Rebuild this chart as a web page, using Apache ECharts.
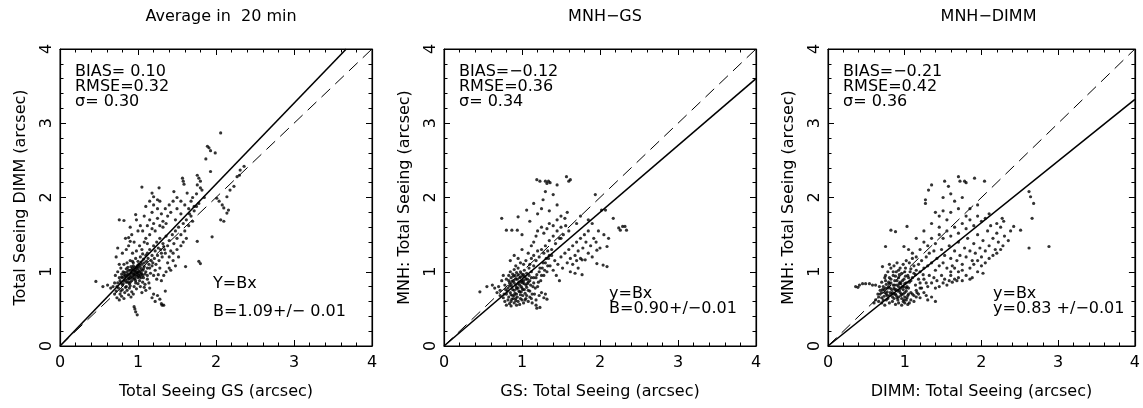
<!DOCTYPE html>
<html><head><meta charset="utf-8">
<script src="https://cdn.jsdelivr.net/npm/echarts@6/dist/echarts.min.js"></script>
<style>html,body{margin:0;padding:0;background:#fff}#c{width:1143px;height:408px}</style>
</head><body><div id="c"></div>
<script>
const panelTitles = ['Average in  20 min', 'MNH\u2212GS', 'MNH\u2212DIMM'];
const xNames = ['Total Seeing GS (arcsec)', 'GS: Total Seeing (arcsec)', 'DIMM: Total Seeing (arcsec)'];
const yNames = ['Total Seeing DIMM (arcsec)', 'MNH: Total Seeing (arcsec)', 'MNH: Total Seeing (arcsec)'];
const slopes = [1.09, 0.90, 0.83];
const statsText = [
  ['BIAS= 0.10', 'RMSE=0.32', '\u03c3= 0.30'],
  ['BIAS=\u22120.12', 'RMSE=0.36', '\u03c3= 0.34'],
  ['BIAS=\u22120.21', 'RMSE=0.42', '\u03c3= 0.36']
];
const fitText = [
  ['Y=Bx', 'B=1.09+/\u2212 0.01'],
  ['y=Bx', 'B=0.90+/\u22120.01'],
  ['y=Bx', 'y=0.83 +/\u22120.01']
];
const axisRange = [0, 4];

const points1 = [
[0.75,0.78],[0.78,0.85],[0.80,0.92],[0.82,0.88],[0.84,0.95],[0.85,0.80],[0.86,1.00],[0.87,0.90],[0.88,0.97],[0.89,0.84],[0.90,1.02],[0.91,0.93],[0.92,0.88],[0.93,1.05],[0.94,0.96],[0.95,0.99],[0.96,0.91],[0.97,1.03],[0.98,0.94],[0.99,1.08],[1.00,0.98],[1.01,1.01],[1.02,0.93],[1.03,1.06],[1.04,0.99],[1.05,1.10],[1.06,0.95],[1.07,1.04],[1.08,1.12],[1.10,1.00],
[0.76,0.92],[0.79,0.97],[0.81,1.00],[0.83,0.93],[0.85,1.04],[0.87,0.86],[0.88,0.92],[0.90,0.95],[0.91,1.07],[0.92,0.98],[0.94,1.02],[0.95,0.90],[0.96,1.06],[0.98,1.00],[0.99,0.96],[1.00,1.04],[1.01,0.95],[1.02,1.09],[1.04,1.03],[1.05,0.97],
[0.72,0.74],[0.74,0.85],[0.77,0.70],[0.80,0.76],[0.83,0.72],[0.86,0.75],[0.89,0.78],[0.92,0.73],[0.95,0.80],[0.98,0.77],[1.00,0.84],[1.03,0.80],[1.06,0.86],[1.09,0.83],[1.12,0.90],
[0.73,0.65],[0.76,0.62],[0.79,0.67],[0.82,0.64],[0.88,0.69],[0.91,0.66],[0.94,0.70],[1.05,0.72],[1.10,0.75],[1.15,0.78],[1.20,0.70],[1.25,0.68],[1.28,0.63],[1.30,0.57],[1.33,0.55],[1.22,0.60],[1.18,0.65],[1.35,0.74],
[0.70,0.85],[0.68,0.80],[0.65,0.78],[0.71,0.95],[0.74,1.00],[0.78,1.05],[0.82,1.10],[0.86,1.12],[0.90,1.15],[0.94,1.12],[0.97,1.18],[1.00,1.14],[1.03,1.20],[1.07,1.17],[1.10,1.22],[1.12,1.05],[1.14,1.10],[1.16,0.98],[1.18,1.08],[1.20,0.95],[1.22,1.02],[1.24,0.90],[1.26,0.96],[1.28,1.05],[1.30,0.88],[1.33,0.95],[1.36,1.00],[1.40,1.05],
[0.46,0.87],[0.61,0.82],[0.55,0.80],[0.95,0.53],[0.97,0.46],[0.99,0.42],[0.96,0.50],[1.31,0.55],
[1.12,1.25],[1.15,1.30],[1.18,1.22],[1.20,1.35],[1.22,1.28],[1.24,1.40],[1.26,1.32],[1.28,1.45],[1.30,1.25],[1.32,1.38],[1.34,1.30],[1.36,1.48],[1.38,1.35],[1.40,1.42],[1.42,1.28],[1.44,1.50],[1.46,1.38],[1.48,1.55],[1.50,1.45],[1.52,1.60],[1.55,1.50],[1.58,1.65],[1.60,1.55],[1.62,1.70],[1.65,1.62],[1.68,1.75],[1.70,1.68],[1.72,1.82],[1.75,1.88],[1.78,1.92],
[1.15,1.50],[1.18,1.58],[1.20,1.65],[1.22,1.55],[1.25,1.72],[1.28,1.62],[1.30,1.78],[1.32,1.68],[1.35,1.85],[1.38,1.75],[1.40,1.90],[1.42,1.80],[1.45,1.95],[1.48,1.70],[1.50,1.85],[1.55,1.78],[1.60,1.90],[1.65,1.85],
[1.05,1.30],[1.08,1.40],[1.02,1.35],[0.98,1.28],[1.10,1.45],[1.06,1.55],[1.12,1.62],[1.15,1.70],[1.18,1.80],[1.20,1.90],[1.25,1.85],[1.28,1.95],[1.32,1.60],[1.36,1.65],[1.12,1.38],[1.40,1.20],[1.45,1.15],[1.48,1.08],[1.45,1.25],[1.50,1.30],[1.55,1.35],[1.52,1.20],[1.58,1.40],[1.62,1.45],[1.38,1.12],[1.42,1.02],
[0.76,1.70],[0.82,1.69],[0.84,1.45],[0.88,1.46],[0.90,1.41],[0.74,1.32],[0.72,1.20],[0.97,1.77],[0.80,1.25],[0.85,1.30],[0.88,1.35],[0.92,1.50],[0.95,1.40],[0.93,1.25],[1.00,1.55],[1.03,1.62],[0.90,1.60],[0.98,1.70],[1.08,1.75],[1.05,2.14],[1.18,2.06],[1.20,2.01],[1.25,1.97],[1.27,2.13],[1.46,2.08],[1.63,2.06],[1.10,1.88],[1.15,1.95],
[2.06,2.87],[1.89,2.69],[1.91,2.67],[1.93,2.63],[1.99,2.60],[1.87,2.52],[1.93,2.35],[1.57,2.26],[1.58,2.22],[1.59,2.18],[1.76,2.30],[1.78,2.26],[1.80,2.22],[1.76,2.17],[1.80,2.13],[1.82,2.10],[2.01,1.99],[2.04,1.95],[2.08,1.90],[2.10,1.86],[2.14,2.01],[2.18,2.10],[2.23,2.15],[2.27,2.28],[2.31,2.37],[2.36,2.42],[2.30,2.30],[2.16,1.83],[2.14,1.79],[2.06,1.70],[2.10,1.68],[1.95,1.47],[1.80,1.11],[1.78,1.14],[1.61,1.07],[1.76,1.41],[1.70,2.00],[1.68,1.95],[1.85,2.00],[1.72,1.88],[1.66,1.78],[1.75,2.05],[1.55,1.95],[1.50,2.00],
[0.77,0.88],[0.79,0.93],[0.81,0.84],[0.83,0.99],[0.84,0.89],[0.86,0.96],[0.87,1.06],[0.89,0.91],[0.90,0.86],[0.91,0.99],[0.93,0.92],[0.94,1.08],[0.95,0.95],[0.96,1.01],[0.97,0.88],[0.98,1.05],[0.99,0.99],[1.00,0.92],[1.01,1.10],[1.02,1.00],[1.03,0.96],[1.04,1.13],[1.06,1.02],[1.07,0.92],[1.08,1.07],[1.09,0.97],[1.11,1.14],[1.12,0.95],[1.13,1.18],[1.15,1.05],[1.17,1.15],[1.19,1.12],[1.21,1.18],[1.23,1.10],[1.25,1.22],[1.27,1.15],[1.29,1.30],[1.31,1.20],[1.33,1.34],[1.35,1.25],[0.80,0.82],[0.82,0.96],[0.85,0.86],[0.88,1.02],[0.92,1.03],[0.96,0.97],[1.00,1.07],[1.04,0.92],[0.78,0.74],[0.84,0.79],[0.90,0.81],[0.97,0.85],[1.02,0.88],[1.08,0.79],[1.14,0.85],[0.73,0.80],[0.70,0.70],[0.76,1.10],[0.93,1.14],[1.06,1.24]
];

const points2 = [
[0.80,0.70],[0.82,0.78],[0.84,0.85],[0.85,0.72],[0.86,0.92],[0.87,0.80],[0.88,0.68],[0.89,0.88],[0.90,0.75],[0.91,0.95],[0.92,0.82],[0.93,0.70],[0.94,0.90],[0.95,0.78],[0.96,0.86],[0.97,0.73],[0.98,0.93],[0.99,0.80],[1.00,0.88],[1.01,0.76],[1.02,0.96],[1.03,0.84],[1.04,0.71],[1.05,0.90],[1.06,0.79],[1.08,0.86],[1.10,0.74],[1.12,0.92],[1.14,0.80],[1.16,0.70],
[0.78,0.82],[0.80,0.90],[0.83,0.95],[0.85,1.00],[0.88,0.97],[0.90,1.03],[0.93,0.99],[0.95,1.05],[0.98,1.00],[1.00,0.97],[1.03,1.02],[1.06,0.98],[1.09,1.05],[1.12,1.00],[1.15,1.08],
[0.76,0.65],[0.78,0.60],[0.82,0.62],[0.84,0.57],[0.87,0.63],[0.90,0.58],[0.92,0.64],[0.95,0.60],[0.97,0.56],[1.00,0.62],[1.02,0.58],[1.05,0.64],[1.08,0.60],[1.10,0.66],[1.13,0.58],[1.19,0.51],[1.23,0.52],[1.18,0.62],[1.22,0.68],[1.25,0.72],[1.28,0.65],[1.32,0.63],[1.30,0.70],[0.80,0.55],[0.93,0.55],[0.86,0.54],
[0.72,0.75],[0.70,0.80],[0.68,0.72],[0.65,0.78],[0.62,0.82],[0.55,0.80],[0.46,0.73],[0.74,0.88],[0.76,0.95],[0.72,0.68],
[1.15,0.85],[1.18,0.92],[1.20,0.80],[1.22,1.00],[1.24,0.88],[1.26,1.05],[1.28,0.95],[1.30,1.12],[1.32,1.00],[1.34,1.18],[1.36,1.08],[1.38,1.22],[1.40,1.02],[1.42,1.15],[1.44,0.95],[1.46,1.10],[1.48,0.88],[1.50,1.20],[1.52,1.05],[1.55,1.25],[1.58,1.12],[1.60,1.30],[1.62,1.18],[1.65,1.35],[1.68,1.22],[1.70,1.40],[1.72,1.28],[1.75,1.45],[1.78,1.32],[1.80,1.50],
[1.10,1.10],[1.12,1.18],[1.15,1.22],[1.18,1.15],[1.20,1.28],[1.22,1.20],[1.25,1.30],[1.28,1.25],[1.30,1.35],[1.33,1.28],[1.35,1.42],[1.38,1.30],[1.40,1.48],[1.43,1.38],[1.45,1.55],[1.48,1.45],[1.50,1.60],[1.53,1.50],[1.56,1.62],[1.60,1.55],
[1.05,1.15],[1.02,1.10],[0.98,1.12],[0.95,1.18],[0.92,1.08],[1.08,1.25],[1.00,1.30],[0.90,1.22],[0.85,1.15],[1.12,1.35],[1.15,1.40],[1.18,1.48],[1.20,1.55],[1.25,1.60],[1.28,1.52],[1.32,1.58],[1.35,1.65],[1.40,1.62],[1.45,1.70],[1.50,1.75],[1.55,1.72],[1.58,1.80],
[1.62,1.00],[1.65,1.10],[1.68,0.98],[1.70,1.15],[1.72,1.05],[1.85,1.25],[1.88,1.35],[1.90,1.20],[1.92,1.45],[1.95,1.40],[1.82,1.40],[1.85,1.55],
[1.19,2.24],[1.23,2.22],[1.30,2.22],[1.34,2.22],[1.32,2.19],[1.36,2.20],[1.45,2.17],[1.57,2.28],[1.62,2.24],[1.60,2.22],[1.30,2.08],[1.40,2.04],[1.27,1.97],[1.94,2.04],[1.15,1.92],[1.06,1.83],[0.95,1.74],[0.94,1.56],[0.80,1.56],[0.87,1.56],[0.74,1.72],[1.10,1.68],[1.00,1.50],[1.20,1.78],[1.35,1.82],[1.25,1.85],[1.45,1.90],[1.50,1.45],[1.70,1.65],[1.75,1.75],
[2.02,1.83],[2.07,1.83],[2.17,1.72],[2.24,1.59],[2.29,1.61],[2.32,1.61],[2.34,1.56],[2.26,1.56],[2.11,1.45],[2.09,1.34],[2.00,1.32],[1.96,1.29],[1.96,1.11],[2.04,1.09],[2.09,1.07],[1.75,1.18],[1.77,1.16],[1.81,1.16],[1.77,0.96],[1.90,1.65],[1.98,1.55],[2.05,1.50],[1.85,1.70],
[0.81,0.74],[0.83,0.66],[0.84,0.81],[0.86,0.69],[0.87,0.87],[0.88,0.76],[0.89,0.64],[0.90,0.85],[0.91,0.71],[0.92,0.90],[0.93,0.79],[0.94,0.66],[0.95,0.84],[0.96,0.74],[0.97,0.92],[0.98,0.69],[0.99,0.86],[1.00,0.78],[1.01,0.68],[1.02,0.88],[1.03,0.76],[1.04,0.93],[1.05,0.82],[1.06,0.68],[1.07,0.90],[1.08,0.75],[1.09,0.95],[1.11,0.82],[1.13,0.70],[1.15,0.92],[1.17,0.78],[1.19,0.96],[1.21,0.86],[1.23,1.05],[1.25,0.95],[1.27,1.12],[1.29,1.02],[1.31,1.18],[1.33,1.08],[1.35,1.22],[0.83,0.88],[0.86,0.60],[0.89,0.94],[0.92,0.61],[0.95,0.96],[0.98,0.64],[1.01,0.94],[1.04,0.62],[1.07,0.84],[1.10,0.88],[0.79,0.76],[0.77,0.70],[0.93,0.77],[0.97,0.82],[1.01,0.85],[0.90,0.68],[0.86,0.83],[1.12,0.64],[1.18,0.55],[0.99,0.73]
];

const points3 = [
[0.36,0.80],[0.39,0.79],[0.41,0.82],[0.45,0.84],[0.49,0.84],[0.54,0.84],[0.58,0.82],[0.62,0.82],[0.67,0.80],
[0.62,0.62],[0.65,0.70],[0.68,0.75],[0.70,0.65],[0.72,0.80],[0.74,0.72],[0.75,0.88],[0.77,0.68],[0.78,0.78],[0.80,0.92],[0.81,0.72],[0.82,0.85],[0.84,0.66],[0.85,0.95],[0.86,0.78],[0.87,0.88],[0.88,0.70],[0.89,1.00],[0.90,0.82],[0.91,0.62],[0.92,0.92],[0.93,0.75],[0.94,0.86],[0.95,0.68],[0.96,0.98],[0.97,0.80],[0.98,0.60],[0.99,0.90],[1.00,0.72],[1.01,1.05],[1.02,0.85],[1.03,0.65],[1.04,0.95],[1.05,0.78],[1.06,0.58],[1.07,1.00],[1.08,0.88],[1.10,0.70],[1.12,1.08],[1.14,0.82],
[0.70,0.72],[0.73,0.76],[0.76,0.83],[0.79,0.86],[0.83,0.76],[0.86,0.70],[0.89,0.76],[0.92,0.80],[0.95,0.84],[0.98,0.76],[1.00,0.84],[1.02,0.74],[1.05,0.70],[0.76,0.62],[0.80,0.58],[0.84,0.60],[0.88,0.56],[0.92,0.58],[0.96,0.55],[1.00,0.58],[1.04,0.56],[1.08,0.62],[1.12,0.60],[1.15,0.66],[0.66,0.60],[0.70,0.58],[0.74,0.55],[0.60,0.58],
[0.78,1.00],[0.82,1.05],[0.86,1.08],[0.90,1.12],[0.94,1.05],[0.98,1.10],[1.02,1.15],[1.06,1.12],[1.10,1.18],[0.75,0.95],[0.71,1.07],[0.80,1.10],
[1.15,0.75],[1.18,0.70],[1.20,0.65],[1.22,0.78],[1.25,0.72],[1.28,0.68],[1.30,0.62],[1.35,0.66],[1.40,0.60],[1.20,0.85],[1.25,0.90],[1.30,0.80],[1.32,0.95],[1.35,0.85],[1.38,0.92],[1.40,0.78],[1.42,0.88],[1.45,0.80],[1.48,0.95],[1.50,0.85],[1.52,0.90],[1.55,0.82],[1.58,0.88],[1.60,0.95],[1.62,0.86],[1.65,0.90],[1.68,0.88],[1.70,0.92],[1.75,0.88],[1.80,0.95],[1.85,0.90],
[1.15,1.02],[1.18,1.10],[1.20,1.00],[1.22,1.15],[1.25,1.05],[1.28,1.20],[1.30,1.08],[1.32,1.25],[1.35,1.12],[1.38,1.28],[1.40,1.02],[1.42,1.18],[1.45,1.08],[1.48,1.30],[1.50,1.12],[1.52,1.22],[1.55,1.05],[1.58,1.35],[1.60,1.18],[1.62,1.08],[1.65,1.28],[1.68,1.15],[1.70,1.40],[1.72,1.22],[1.75,1.10],[1.78,1.32],[1.80,1.20],[1.82,1.45],[1.85,1.28],[1.88,1.15],[1.90,1.38],[1.92,1.25],[1.95,1.50],[1.98,1.32],[2.00,1.20],[2.02,1.42],[2.05,1.28],[2.08,1.55],[2.10,1.35],[2.12,1.62],[2.15,1.45],[2.18,1.30],[2.20,1.52],[2.22,1.40],[2.25,1.60],[2.28,1.35],[2.30,1.48],[2.35,1.42],[2.38,1.55],
[1.60,1.00],[1.65,1.05],[1.70,1.00],[1.75,1.02],[1.85,1.05],[1.90,1.10],[1.95,1.15],[2.00,1.08],[2.05,1.12],[2.10,1.18],[2.15,1.22],[2.20,1.25],[2.25,1.30],[1.95,1.00],[2.02,0.98],[1.88,0.92],
[1.20,1.30],[1.25,1.40],[1.30,1.35],[1.35,1.45],[1.40,1.38],[1.45,1.50],[1.50,1.45],[1.55,1.55],[1.60,1.48],[1.65,1.60],[1.70,1.52],[1.75,1.65],[1.80,1.58],[1.85,1.70],[1.90,1.62],[1.95,1.75],[2.00,1.68],[2.05,1.72],[1.15,1.20],[1.10,1.25],[1.05,1.30],
[1.70,2.28],[1.72,2.22],[1.78,2.22],[1.80,2.20],[1.52,2.22],[1.57,2.15],[1.91,2.26],[2.04,2.22],[1.35,2.17],[1.31,2.10],[1.27,1.97],[1.27,1.92],[2.62,2.08],[2.64,2.01],[2.68,1.92],[2.66,1.72],[2.88,1.34],[2.62,1.32],[2.51,1.56],[2.42,1.61],[2.27,1.72],[2.29,1.68],[0.75,1.34],[0.82,1.56],[0.88,1.54],[1.03,1.61],[0.99,1.34],
[1.40,1.80],[1.45,1.75],[1.50,1.82],[1.55,1.70],[1.60,1.80],[1.65,1.95],[1.70,1.85],[1.75,2.00],[1.80,1.75],[1.45,1.60],[1.35,1.65],[1.60,2.05],[1.85,1.85],[2.10,1.78],[2.20,1.65],[1.25,1.55],[1.15,1.45],[1.50,2.00],[1.95,1.90],
[0.66,0.66],[0.68,0.70],[0.71,0.76],[0.73,0.67],[0.75,0.78],[0.77,0.73],[0.79,0.80],[0.80,0.68],[0.82,0.90],[0.83,0.70],[0.85,0.82],[0.86,0.64],[0.87,0.76],[0.88,0.94],[0.89,0.68],[0.90,0.88],[0.91,0.74],[0.92,0.66],[0.93,0.96],[0.94,0.72],[0.95,0.78],[0.96,0.64],[0.97,0.88],[0.98,0.70],[0.99,0.80],[1.00,0.66],[1.01,0.94],[1.02,0.62],[1.03,0.80],[1.04,0.68],[1.06,0.86],[1.08,0.72],[1.10,0.92],[1.12,0.68],[1.14,0.96],[1.16,0.72],[1.18,0.90],[1.20,0.78],[1.24,0.96],[1.28,0.85],[0.78,0.64],[0.81,0.78],[0.84,0.72],[0.87,0.82],[0.90,0.65],[0.93,0.84],[0.96,0.70],[0.99,0.62],[1.02,0.78],[1.05,0.92],[0.72,0.62],[0.76,0.70],[0.80,0.84],[0.70,0.86],[0.74,0.92],[0.85,1.00],[0.92,1.02],[1.00,1.00],[1.08,1.04],[1.12,0.98]
];
const allPoints = [points1, points2, points3];

// ---- layout ----
const FONT = 'DejaVu Sans';
const grids = [
  {left: 60, top: 49, width: 312, height: 297},
  {left: 444, top: 49, width: 312, height: 297},
  {left: 828, top: 49, width: 311, height: 297}
];

function axisCommon(extra) {
  return Object.assign({
    type: 'value', min: axisRange[0], max: axisRange[1], interval: 1,
    axisLine: {show: true, onZero: false, lineStyle: {color: '#000', width: 1.2}},
    axisTick: {show: true, inside: true, length: 6, lineStyle: {color: '#000', width: 1}},
    minorTick: {show: true, splitNumber: 5, length: 3.5, lineStyle: {color: '#000', width: 1}},
    splitLine: {show: false},
    minorSplitLine: {show: false}
  }, extra);
}

const xAxes = [], yAxes = [], series = [], titles = [], graphics = [];
grids.forEach((g, i) => {
  xAxes.push(axisCommon({
    gridIndex: i, position: 'bottom', name: xNames[i], nameLocation: 'middle', nameGap: 38,
    nameTextStyle: {fontFamily: FONT, fontSize: 16, color: '#000'},
    axisLabel: {margin: 9, fontFamily: FONT, fontSize: 16, color: '#000'}
  }));
  xAxes.push(axisCommon({gridIndex: i, position: 'top', axisLabel: {show: false}}));
  yAxes.push(axisCommon({
    gridIndex: i, position: 'left', name: yNames[i], nameLocation: 'middle', nameGap: 31,
    nameTextStyle: {fontFamily: FONT, fontSize: 16, color: '#000'},
    axisLabel: {margin: 5, rotate: 90, fontFamily: FONT, fontSize: 16, color: '#000'}
  }));
  yAxes.push(axisCommon({gridIndex: i, position: 'right', axisLabel: {show: false}}));

  const B = slopes[i];
  const xe = Math.min(axisRange[1], axisRange[1] / B);
  series.push({
    type: 'line', xAxisIndex: 2 * i, yAxisIndex: 2 * i, data: [[0, 0], [axisRange[1], axisRange[1]]],
    showSymbol: false, silent: true, lineStyle: {color: '#000', width: 1, type: [12, 7]}
  });
  series.push({
    type: 'line', xAxisIndex: 2 * i, yAxisIndex: 2 * i, data: [[0, 0], [xe, B * xe]],
    showSymbol: false, silent: true, lineStyle: {color: '#000', width: 1.6}
  });
  series.push({
    type: 'scatter', xAxisIndex: 2 * i, yAxisIndex: 2 * i, data: allPoints[i],
    symbol: 'circle', symbolSize: 3.2, itemStyle: {color: '#000'}, silent: true
  });

  titles.push({
    text: panelTitles[i], left: g.left + g.width / 2, top: 4, textAlign: 'center',
    textStyle: {fontFamily: FONT, fontSize: 16, fontWeight: 'normal', color: '#000'}
  });

  statsText[i].forEach((t, k) => {
    graphics.push({type: 'text', x: g.left + 15, y: g.top + 15 + k * 15,
      style: {text: t, fontFamily: FONT, fontSize: 16, fill: '#000'}});
  });
  const fx = i === 0 ? g.left + 153 : g.left + 165;
  const fy = i === 0 ? [g.top + 227, g.top + 255] : [g.top + 237, g.top + 252];
  fitText[i].forEach((t, k) => {
    graphics.push({type: 'text', x: fx, y: fy[k],
      style: {text: t, fontFamily: FONT, fontSize: 16, fill: '#000'}});
  });
});

const chart = echarts.init(document.getElementById('c'), null, {renderer: 'canvas'});
chart.setOption({
  animation: false,
  backgroundColor: '#fff',
  title: titles,
  grid: grids.map(g => Object.assign({show: true, borderColor: '#000', borderWidth: 1, backgroundColor: 'transparent'}, g)),
  xAxis: xAxes,
  yAxis: yAxes,
  series: series,
  graphic: graphics
});
</script></body></html>
